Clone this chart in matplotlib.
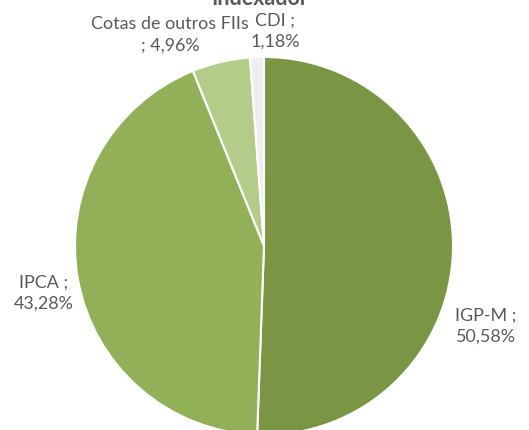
import numpy as np
import matplotlib
matplotlib.use('Agg')
import matplotlib.pyplot as plt

# dados do gráfico de indexadores
labels = ['IGP-M', 'IPCA', 'Cotas de outros FIIs', 'CDI']
values = [50.58, 43.28, 4.96, 1.18]
colors = ['#7A9544', '#92B058', '#B4CC8A', '#EEEEEE']
title = 'Indexador'

plt.rcParams['font.family'] = ['Lato', 'DejaVu Sans']

fig = plt.figure(figsize=(5.29, 4.30), dpi=100)
ax = fig.add_axes([0, 0, 1, 1])

# raio = 189 px, centro em (264, 246) a partir do topo
R = 189.0
cx, cy = 264.0, 246.0
W, H = 529.0, 430.0

ax.pie(values, colors=colors, startangle=90, counterclock=False,
       radius=1.0, center=(0, 0),
       wedgeprops=dict(edgecolor='white', linewidth=1.5))

ax.set_xlim(-cx / R, (W - cx) / R)
ax.set_ylim(-(H - cy) / R, cy / R)
ax.set_aspect('auto')
ax.axis('off')


def px(x, y):
    # pixels da imagem -> coordenadas de dados
    return (x - cx) / R, (cy - y) / R


label_pos = [(486, 326), (44, 293), (170, 35), (275, 31)]
for lab, val, (x, y) in zip(labels, values, label_pos):
    txt = '%s ;\n%s%%' % (lab, ('%.2f' % val).replace('.', ','))
    if lab.startswith('Cotas'):
        txt = '%s\n; %s%%' % (lab, ('%.2f' % val).replace('.', ','))
    dx, dy = px(x, y)
    ax.text(dx, dy, txt, ha='center', va='center', fontsize=12.9,
            color='#595959', linespacing=1.4)

tx, ty = px(260, 5)
ax.text(tx, ty, title, ha='center', va='baseline', fontsize=15.5,
        fontweight='bold', color='#595959')

fig.savefig('out.png', dpi=100)
